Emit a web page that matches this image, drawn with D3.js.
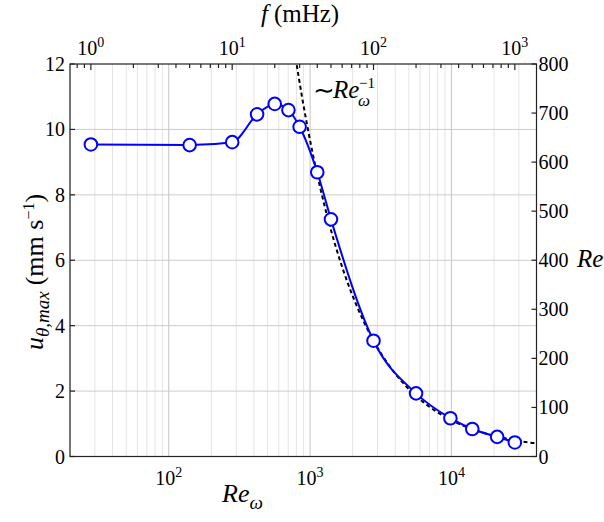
<!DOCTYPE html>
<html><head><meta charset="utf-8">
<script src="https://cdn.jsdelivr.net/npm/d3@7"></script>
</head>
<body style="margin:0;background:#fff"><svg id="c" width="604" height="522" font-family="Liberation Serif" style="font-family:'Liberation Serif'"></svg>
<script>
// ---- data ----
const reOmega = [28.1, 140.5, 281, 421.5, 562, 702.5, 843, 1124, 1405, 2810, 5620, 9835, 14050, 21075, 28100];
const uMax    = [9.54, 9.52, 9.61, 10.46, 10.78, 10.59, 10.08, 8.69, 7.25, 3.54, 1.93, 1.17, 0.84, 0.60, 0.43];
const reOmegaDomain = [20, 40000];
const reOmegaPerMHz = 28.1;          // Re_w corresponding to f = 1 mHz
const uDomain = [0, 12];
const reDomain = [0, 800];
const uTicks = [0, 2, 4, 6, 8, 10, 12];
const reTicks = [0, 100, 200, 300, 400, 500, 600, 700, 800];
const bottomMajor = [100, 1000, 10000];
const topMajor = [1, 10, 100, 1000];
const fitA = 9500, fitB = 0.16;      // dashed ~Re_w^-1 reference curve

// ---- layout ----
const L = 70, R = 536.5, T = 64, B = 456.5;
const svg = d3.select("#c");
const x = d3.scaleLog().domain(reOmegaDomain).range([L, R]);
const xTop = d3.scaleLog().domain(reOmegaDomain.map(d => d / reOmegaPerMHz)).range([L, R]);
const y = d3.scaleLinear().domain(uDomain).range([B, T]);
const yR = d3.scaleLinear().domain(reDomain).range([B, T]);

function txt(xp, yp, size) {
  return svg.append("text").attr("x", xp).attr("y", yp).attr("font-size", size)
    .attr("font-family", "Liberation Serif")
    .style("font-family", "\"Liberation Serif\"").attr("fill", "#000");
}

// minor/major log ticks
function logTicks(dom) {
  const out = [];
  const lo = Math.floor(Math.log10(dom[0])), hi = Math.ceil(Math.log10(dom[1]));
  for (let e = lo; e <= hi; e++) for (let m = 1; m <= 9; m++) {
    const v = m * Math.pow(10, e);
    if (v >= dom[0] * 0.9999 && v <= dom[1] * 1.0001) out.push({v, major: m === 1});
  }
  return out;
}

// grid
const g = svg.append("g");
logTicks(reOmegaDomain).forEach(t => {
  g.append("line").attr("x1", x(t.v)).attr("x2", x(t.v)).attr("y1", T).attr("y2", B)
    .attr("stroke", t.major ? "#c4c4c4" : "#e4e4e4").attr("stroke-width", 1);
});
uTicks.slice(1, -1).forEach(v => {
  g.append("line").attr("x1", L).attr("x2", R).attr("y1", y(v)).attr("y2", y(v))
    .attr("stroke", "#cccccc").attr("stroke-width", 1);
});

// clip
svg.append("clipPath").attr("id", "clip").append("rect")
  .attr("x", L).attr("y", T).attr("width", R - L).attr("height", B - T);

// dashed reference curve
const fitRe = d3.range(Math.log10(reOmegaDomain[0]), Math.log10(reOmegaDomain[1]) + 0.001, 0.01).map(e => Math.pow(10, e));
svg.append("path").attr("clip-path", "url(#clip)")
  .datum(fitRe.map(r => [r, fitA / r + fitB]))
  .attr("d", d3.line().x(d => x(d[0])).y(d => y(d[1])))
  .attr("fill", "none").attr("stroke", "#000").attr("stroke-width", 2)
  .attr("stroke-dasharray", "4,3");

// blue data curve
const pts = reOmega.map((r, i) => [r, uMax[i]]);
svg.append("path").datum(pts)
  .attr("d", d3.line().x(d => x(d[0])).y(d => y(d[1])).curve(d3.curveMonotoneX))
  .attr("fill", "none").attr("stroke", "#0000ff").attr("stroke-width", 2);
svg.selectAll("circle.m").data(pts).enter().append("circle")
  .attr("cx", d => x(d[0])).attr("cy", d => y(d[1])).attr("r", 6.3)
  .attr("fill", "#fff").attr("stroke", "#0000ff").attr("stroke-width", 2);

// frame
const ax = svg.append("g").attr("stroke", "#222").attr("stroke-width", 1.2);
ax.append("rect").attr("x", L).attr("y", T).attr("width", R - L).attr("height", B - T).attr("fill", "none");

// left ticks
uTicks.forEach(v => {
  ax.append("line").attr("x1", L).attr("x2", L + 5).attr("y1", y(v)).attr("y2", y(v));
  txt(L - 5, y(v) + 7, 20).attr("text-anchor", "end").text(v);
});
// right ticks
reTicks.forEach(v => {
  ax.append("line").attr("x1", R).attr("x2", R - 5).attr("y1", yR(v)).attr("y2", yR(v));
  txt(R + 2, yR(v) + 7, 20).attr("text-anchor", "start").text(v);
});
// top ticks
logTicks(xTop.domain()).forEach(t => {
  ax.append("line").attr("x1", xTop(t.v)).attr("x2", xTop(t.v)).attr("y1", T).attr("y2", T + (t.major ? 6 : 4));
});

function powLabel(xp, yp, exp) {
  const t = txt(xp, yp, 20).attr("text-anchor", "middle");
  t.append("tspan").text("10");
  t.append("tspan").attr("dy", -8).attr("font-size", 14).text(exp);
}
bottomMajor.forEach(v => powLabel(x(v), 485, Math.round(Math.log10(v))));
topMajor.forEach(v => powLabel(xTop(v), 55, Math.round(Math.log10(v))));

// axis titles
const bt = txt(222, 502, 26).attr("font-style", "italic");
bt.append("tspan").text("Re");
bt.append("tspan").attr("dy", 7).attr("font-size", 19).text("ω");

const tt = txt(261, 22, 25);
tt.append("tspan").attr("font-style", "italic").text("f");
tt.append("tspan").attr("dx", 6).text("(mHz)");

txt(577, 267, 25).attr("font-style", "italic").text("Re");

const lt = txt(0, 0, 26).attr("transform", "translate(43,272) rotate(-90)").attr("text-anchor", "middle");
lt.append("tspan").attr("font-style", "italic").text("u");
lt.append("tspan").attr("font-style", "italic").attr("font-size", 19).attr("dy", 6).text("θ,max");
lt.append("tspan").attr("dy", -6).attr("dx", 6).text("(mm s");
lt.append("tspan").attr("dy", -9).attr("font-size", 16).text("−1");
lt.append("tspan").attr("dy", 9).text(")");

// annotation ~ Re_w^-1
txt(313, 99, 26).text("∼");
txt(333, 98, 25).attr("font-style", "italic").text("Re");
txt(359, 88, 15).text("−1");
txt(358, 106, 17).attr("font-style", "italic").text("ω");
</script></body></html>
